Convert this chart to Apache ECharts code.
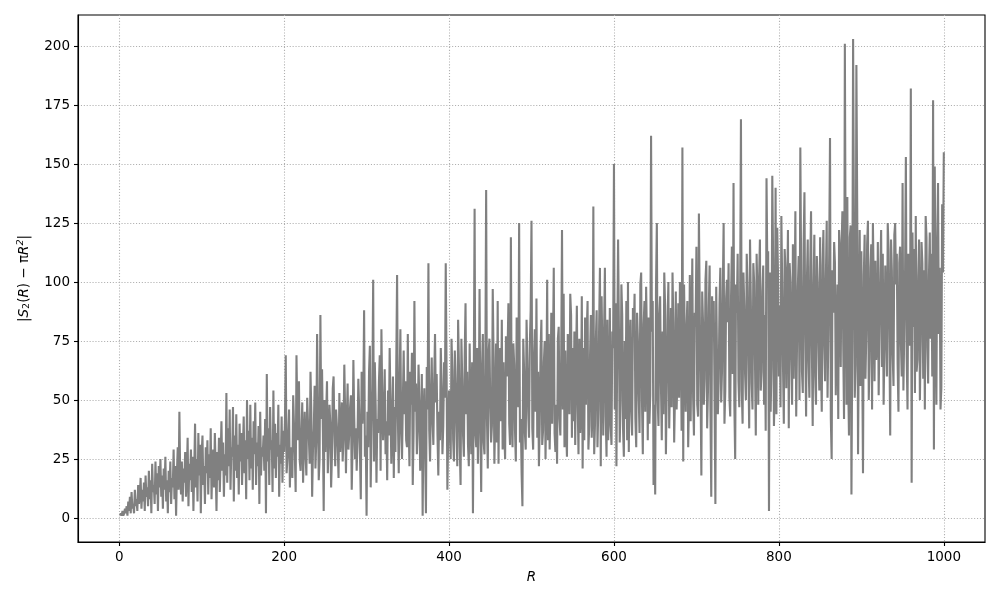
<!DOCTYPE html>
<html>
<head>
<meta charset="utf-8">
<script src="https://cdn.jsdelivr.net/npm/echarts@6/dist/echarts.min.js"></script>
<style>
  html, body { margin: 0; padding: 0; background: #fff; }
  #chart { width: 1000px; height: 600px; }
</style>
</head>
<body>
<div id="chart"></div>
<script>
// |S2(R) - pi R^2| for R = 1 .. 1000 (25 values per line)
var gapValues = [
  1,2,1,3,1,2,4,2,5,1,7,3,9,2,11,4,6,2,12,5,8,3,14,6,10,
  17,4,12,7,15,3,18,9,13,5,20,8,16,2,23,11,14,6,24,10,19,3,22,13,25,
  9,18,4,21,12,26,7,16,2,20,11,24,6,17,13,29,8,22,1,19,30,12,45,18,10,
  24,7,21,15,28,9,19,34,5,23,16,29,11,26,3,20,40,13,25,7,36,18,31,2,27,
  35,14,22,6,30,19,33,10,27,17,38,8,24,29,13,36,21,3,28,16,34,11,25,41,20,
  32,9,27,18,53,15,38,22,46,12,30,26,47,7,35,20,44,17,31,10,40,24,36,14,29,
  43,19,33,8,50,25,37,16,48,21,34,12,41,27,49,14,32,22,39,6,45,18,30,26,35,
  20,42,2,61,24,38,14,47,29,33,11,54,21,40,17,36,26,48,9,31,23,43,15,37,28,
  41,69,19,25,35,46,13,30,22,17,52,39,27,11,69,44,33,58,24,20,36,49,15,31,45,
  27,18,51,40,34,23,62,45,9,29,38,56,21,33,78,47,16,25,86,42,63,37,3,50,28,
  44,58,19,32,48,40,13,26,55,60,35,22,46,39,30,17,53,28,37,49,24,34,65,45,19,
  41,57,29,36,47,52,12,31,67,43,25,38,20,33,59,46,27,8,62,40,50,88,26,35,1,
  45,30,62,73,13,38,55,101,24,66,48,15,42,36,58,69,20,80,51,33,44,63,27,41,16,
  54,35,72,49,23,39,60,17,47,28,65,103,42,19,56,80,36,25,50,71,44,58,33,30,78,
  40,22,62,48,70,14,36,92,45,57,27,38,65,50,20,34,61,1,43,55,29,2,64,46,108,
  37,24,52,68,41,31,58,78,49,61,35,18,45,33,72,56,27,39,66,51,108,63,12,36,54,
  37,25,76,63,33,24,71,57,39,22,84,65,30,14,76,59,35,26,69,91,44,62,31,22,74,
  41,27,66,2,59,131,36,30,72,23,46,97,40,11,64,78,32,27,62,139,42,21,70,76,48,
  32,39,97,68,23,45,74,32,92,23,62,72,41,84,29,66,36,25,77,60,71,91,40,31,119,
  44,30,74,65,37,24,85,71,47,125,32,42,19,5,76,63,36,29,84,67,45,34,74,88,126,
  38,29,68,80,45,93,34,62,22,40,71,84,31,37,66,75,25,52,101,33,78,29,48,87,40,
  70,106,36,28,48,23,76,81,42,35,67,122,46,95,30,71,38,26,78,69,44,95,86,34,72,
  41,79,31,66,90,49,27,76,36,45,94,21,72,33,85,48,79,92,29,39,69,86,34,45,132,
  27,40,75,88,30,46,81,106,22,94,69,35,78,106,43,26,84,33,48,89,39,31,79,72,150,
  46,91,22,74,118,81,32,49,99,86,38,26,75,42,92,33,100,28,69,84,45,35,89,78,95,
  42,30,87,76,52,36,99,104,49,27,82,92,45,98,76,33,85,40,52,162,79,92,14,48,10,
  98,125,50,39,86,94,56,33,79,44,104,90,27,54,84,100,38,59,89,47,104,83,32,52,96,
  46,60,91,51,100,86,37,157,24,99,73,45,80,92,30,50,103,41,76,110,51,35,87,81,115,
  48,43,129,90,56,18,96,83,48,59,101,109,38,54,89,107,46,9,94,78,92,51,6,98,67,
  44,58,91,106,49,62,97,125,40,54,93,101,83,108,51,43,94,115,61,142,48,25,99,87,112,
  58,47,94,169,54,40,104,90,61,50,112,98,65,38,118,92,57,46,108,100,67,35,112,94,48,
  101,118,54,62,96,107,48,86,37,144,105,113,3,104,45,64,145,110,39,56,140,44,123,102,60,
  90,47,128,99,64,40,114,105,55,94,122,38,108,100,67,48,116,59,89,130,43,74,98,111,50,
  157,105,62,53,116,138,76,43,101,118,66,51,106,130,72,39,97,120,60,48,111,100,74,54,119,
  67,45,107,122,73,58,102,126,51,78,112,161,42,25,105,87,117,108,52,76,99,42,122,113,64,
  114,130,74,42,201,103,48,136,59,35,119,124,10,76,203,125,51,65,192,131,27,80,122,56,113,
  72,19,103,120,59,78,116,126,50,68,106,116,46,125,100,58,109,67,74,117,52,79,104,122,64,
  112,48,73,107,83,60,125,114,76,35,118,105,69,56,120,125,99,112,65,45,108,115,74,60,142,
  54,78,103,153,68,46,112,106,73,182,15,121,81,114,53,128,62,67,102,118,50,75,117,108,59,
  105,46,128,119,72,57,103,121,76,112,60,177,29,149,87,48,118,142,78,106,46,55,133,104,155
];
var firstRadius = 1;
var xTicks = [0, 200, 400, 600, 800, 1000];
var yTicks = [0, 25, 50, 75, 100, 125, 150, 175, 200];

var points = [];
for (var i = 0; i < gapValues.length; i++) {
    points.push([firstRadius + i, gapValues[i]]);
}

var chart = echarts.init(document.getElementById("chart"));
var font = "DejaVu Sans";
var gridLine = { show: true, lineStyle: { color: "#b0b0b0", type: [1.1, 1.8], width: 1.1 } };

chart.setOption({
    animation: false,
    backgroundColor: "#fff",
    grid: {
        left: 78, right: 15, top: 15, bottom: 58,
        show: true, borderColor: "#000", borderWidth: 1.1, backgroundColor: "transparent"
    },
    xAxis: {
        type: "value",
        min: -49.95, max: 1049.95,
        minInterval: 200, maxInterval: 200,
        name: "R",
        nameLocation: "middle",
        nameGap: 28,
        nameTextStyle: { fontFamily: font, fontSize: 13.5, fontStyle: "italic", color: "#000" },
        axisLine: { onZero: false, lineStyle: { color: "#000", width: 1.1 } },
        axisTick: { length: 4, customValues: xTicks, lineStyle: { color: "#000", width: 1.1 } },
        axisLabel: { fontFamily: font, fontSize: 13.5, color: "#000", margin: 8,
                     customValues: xTicks,
                     formatter: function (v) { return String(v); } },
        splitLine: gridLine
    },
    yAxis: {
        type: "value",
        min: -10.15, max: 213.15,
        minInterval: 25, maxInterval: 25,
        name: "{b||}{i|S}{s|2}{n|(}{i|R}{n|) − π}{i|R}{p|2}{b||}",
        nameLocation: "middle",
        nameRotate: 90,
        nameGap: 46,
        nameTextStyle: {
            fontFamily: font, fontSize: 13.5, color: "#000",
            rich: {
                b: { fontFamily: font, fontSize: 13.5, color: "#000" },
                n: { fontFamily: font, fontSize: 13.5, color: "#000" },
                i: { fontFamily: font, fontSize: 13.5, fontStyle: "italic", color: "#000" },
                s: { fontFamily: font, fontSize: 9.5, color: "#000", verticalAlign: "bottom", padding: [6, 0, 0, 0] },
                p: { fontFamily: font, fontSize: 9.5, fontStyle: "italic", color: "#000", verticalAlign: "top", padding: [0, 0, 6, 0] }
            }
        },
        axisLine: { show: true, onZero: false, lineStyle: { color: "#000", width: 1.1 } },
        axisTick: { show: true, length: 4, customValues: yTicks, lineStyle: { color: "#000", width: 1.1 } },
        axisLabel: { fontFamily: font, fontSize: 13.5, color: "#000", margin: 8,
                     customValues: yTicks },
        splitLine: gridLine
    },
    series: [{
        type: "line",
        data: points,
        showSymbol: false,
        symbol: "none",
        lineStyle: { color: "#808080", width: 2.1 },
        silent: true
    }]
});
</script>
</body>
</html>
